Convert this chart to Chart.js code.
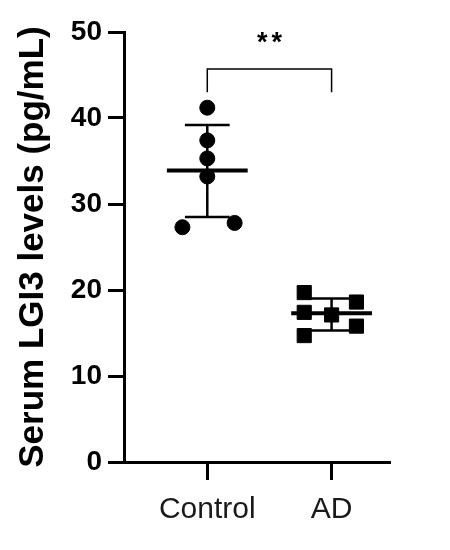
<!DOCTYPE html>
<html>
<head>
<meta charset="utf-8">
<script src="https://cdn.jsdelivr.net/npm/chart.js@4.4.1/dist/chart.umd.min.js"></script>
<style>
  html, body { margin: 0; padding: 0; background: #fff; }
  #wrap { width: 450px; height: 550px; }
</style>
</head>
<body>
<div id="wrap"><canvas id="chart"></canvas></div>
<script>
// values
const groups = ['Control', 'AD']
const controlValues = [41.2, 37.4, 35.3, 33.2, 27.3, 27.8]
const controlJitter = [0, 0, 0, 0, -0.2, 0.22]
const adValues = [19.7, 18.6, 17.4, 17.1, 15.8, 14.7]
const adJitter = [-0.22, 0.2, -0.22, 0, 0.2, -0.22]
const means = [33.9, 17.3]
const sdBelow = [5.4, 2.0]
const sdAbove = [5.3, 1.7]
const yTicks = [0, 10, 20, 30, 40, 50]
const bracketY = [43, 45.7] // legs end, top bar
const sigLabel = '**'
const sigY = 49.4

const FONT = "'Liberation Sans', Arial, Helvetica, sans-serif"

function points(values, jitter, pos) {
  return values.map((v, i) => ({ x: pos + jitter[i], y: v }))
}

// a plain black line from a list of points
function seg(data, width) {
  return {
    type: 'line',
    data: data,
    borderColor: '#000',
    borderWidth: width,
    pointRadius: 0,
    fill: false,
    order: 2
  }
}

const datasets = []

// mean +/- SD for each group
groups.forEach((g, i) => {
  const pos = i + 1
  const lo = means[i] - sdBelow[i]
  const hi = means[i] + sdAbove[i]
  datasets.push(seg([{ x: pos, y: lo }, { x: pos, y: hi }], 2.5))
  datasets.push(seg([{ x: pos - 0.18, y: hi }, { x: pos + 0.18, y: hi }], 2.5))
  datasets.push(seg([{ x: pos - 0.18, y: lo }, { x: pos + 0.18, y: lo }], 2.5))
  datasets.push(seg([{ x: pos - 0.325, y: means[i] }, { x: pos + 0.325, y: means[i] }], 4))
})

// significance bracket
datasets.push(seg([
  { x: 1, y: bracketY[0] }, { x: 1, y: bracketY[1] },
  { x: 2, y: bracketY[1] }, { x: 2, y: bracketY[0] }
], 1.5))

datasets.push({
  type: 'scatter',
  label: groups[0],
  data: points(controlValues, controlJitter, 1),
  pointStyle: 'circle',
  pointRadius: 7.5,
  backgroundColor: '#000',
  borderColor: '#000',
  order: 1
})
datasets.push({
  type: 'scatter',
  label: groups[1],
  data: points(adValues, adJitter, 2),
  pointStyle: 'rect',
  pointRadius: 10,
  backgroundColor: '#000',
  borderColor: '#000',
  order: 1
})

// draws the ** above the bracket
const sigPlugin = {
  id: 'sig',
  afterDatasetsDraw(chart) {
    const ctx = chart.ctx
    const x = chart.scales.x.getPixelForValue(1.5)
    const y = chart.scales.y.getPixelForValue(sigY)
    ctx.save()
    ctx.fillStyle = '#000'
    ctx.font = 'bold 27px ' + FONT
    ctx.letterSpacing = '4px'
    ctx.textAlign = 'center'
    ctx.textBaseline = 'middle'
    ctx.fillText(sigLabel, x + 2, y + 6)
    ctx.restore()
  }
}

new Chart(document.getElementById('chart'), {
  data: { datasets: datasets },
  plugins: [sigPlugin],
  options: {
    responsive: true,
    maintainAspectRatio: false,
    animation: false,
    layout: { padding: { top: 32, right: 60, left: 0, bottom: 0 } },
    plugins: {
      legend: { display: false },
      tooltip: { enabled: false }
    },
    scales: {
      x: {
        type: 'linear',
        min: 0.33,
        max: 2.47,
        afterBuildTicks: s => { s.ticks = groups.map((g, i) => ({ value: i + 1 })) },
        afterFit: s => { s.height = 88 },
        ticks: {
          callback: v => groups[v - 1],
          color: '#1a1a1a',
          font: { family: FONT, size: 30 },
          padding: 12,
          autoSkip: false,
          maxRotation: 0
        },
        grid: { drawOnChartArea: false, tickLength: 18, tickWidth: 3, tickColor: '#000' },
        border: { color: '#000', width: 3 }
      },
      y: {
        min: 0,
        max: 50,
        afterBuildTicks: s => { s.ticks = yTicks.map(v => ({ value: v })) },
        afterFit: s => { s.width = 124 },
        ticks: {
          color: '#000',
          font: { family: FONT, size: 28, weight: 'bold' },
          padding: 6
        },
        grid: { drawOnChartArea: false, tickLength: 16, tickWidth: 3, tickColor: '#000' },
        border: { color: '#000', width: 3 },
        title: {
          display: true,
          text: 'Serum LGI3 levels (pg/mL)',
          color: '#000',
          font: { family: FONT, size: 35, weight: 'bold' },
          padding: { top: 12, bottom: 0 }
        }
      }
    }
  }
})
</script>
</body>
</html>
